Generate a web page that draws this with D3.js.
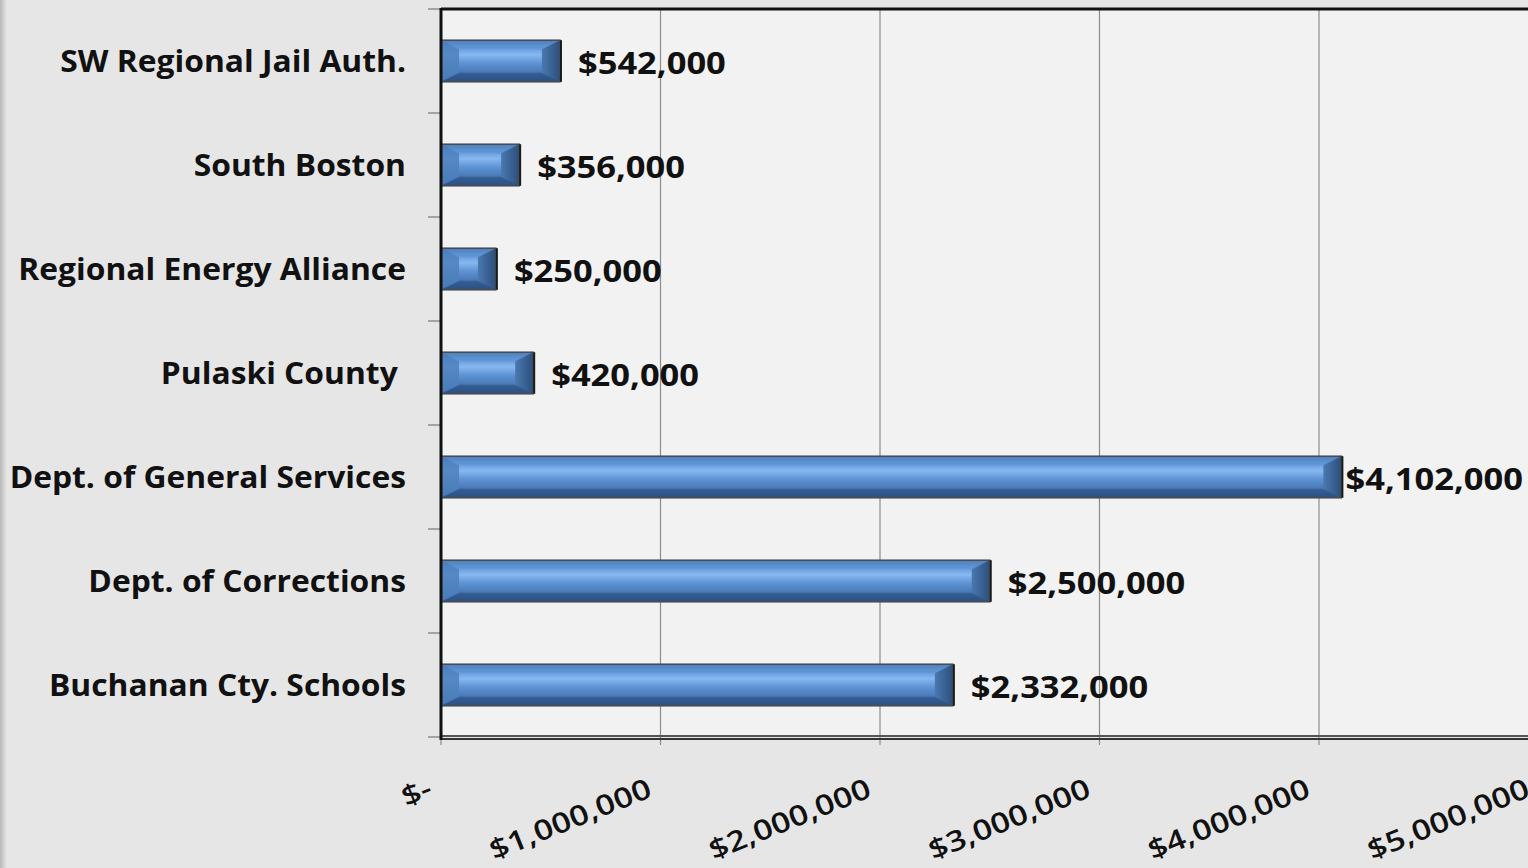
<!DOCTYPE html>
<html><head><meta charset="utf-8">
<script src="https://cdn.jsdelivr.net/npm/d3@7"></script>
<style>
html,body{margin:0;padding:0;background:#e6e6e6;overflow:hidden}
svg{display:block}
text{font-family:"Open Sans",sans-serif;fill:#111}
</style></head><body>
<svg id="c" width="1528" height="868"></svg>
<script>
const categories = ["SW Regional Jail Auth.","South Boston","Regional Energy Alliance","Pulaski County ","Dept. of General Services","Dept. of Corrections","Buchanan Cty. Schools"];
const values = [542000,356000,250000,420000,4102000,2500000,2332000];
const tickValues = [0,1000000,2000000,3000000,4000000,5000000];
const tickLabels = ["$-","$1,000,000","$2,000,000","$3,000,000","$4,000,000","$5,000,000"];

const W=1528,H=868;
const svg=d3.select("#c");
const m={l:441,t:9,b:737};
const x=d3.scaleLinear().domain([0,5000000]).range([m.l,m.l+5*219.5]);
const y=d3.scaleBand().domain(categories).range([m.t,m.b]).paddingInner(0.6).paddingOuter(0.3);
const band=d3.scaleBand().domain(categories).range([m.t,m.b]);

const defs=svg.append("defs");
const lg=defs.append("linearGradient").attr("id","edge").attr("x1",0).attr("x2",1);
lg.append("stop").attr("offset","0%").attr("stop-color","#b8b8b8");
lg.append("stop").attr("offset","100%").attr("stop-color","#e6e6e6");
const bg=defs.append("linearGradient").attr("id","bar").attr("x1",0).attr("x2",0).attr("y1",0).attr("y2",1);
[["0%","#3f6fa8"],["15%","#5f94d6"],["35%","#86b8f0"],["55%","#5e93d4"],["80%","#4676b2"],["100%","#2c5285"]].forEach(s=>bg.append("stop").attr("offset",s[0]).attr("stop-color",s[1]));
const rb=defs.append("linearGradient").attr("id","rbev").attr("x1",0).attr("x2",1);
rb.append("stop").attr("offset","0%").attr("stop-color","#4a78ae");
rb.append("stop").attr("offset","100%").attr("stop-color","#2c4f7c");

svg.append("rect").attr("x",0).attr("y",0).attr("width",7).attr("height",H).attr("fill","url(#edge)");
svg.append("rect").attr("x",m.l).attr("y",m.t).attr("width",W-m.l).attr("height",m.b-m.t).attr("fill","#f2f2f2");

// gridlines
svg.append("g").selectAll("line").data(tickValues.slice(1)).join("line")
  .attr("x1",d=>x(d)).attr("x2",d=>x(d)).attr("y1",m.t).attr("y2",m.b+8)
  .attr("stroke","#8c8c8c").attr("stroke-width",1.2);
svg.append("line").attr("x1",m.l).attr("x2",m.l).attr("y1",m.b).attr("y2",m.b+8).attr("stroke","#8c8c8c").attr("stroke-width",1.2);

// bars
const g=svg.append("g");
categories.forEach((c,i)=>{
  const x0=x(0),x1=x(values[i]),y0=y(c),h=y.bandwidth(),y1=y0+h;
  const bw=Math.min(18,(x1-x0)/3), bh=9;
  g.append("rect").attr("x",x0).attr("y",y0).attr("width",x1-x0).attr("height",h).attr("fill","url(#bar)");
  g.append("path").attr("d",`M${x0},${y0}L${x1},${y0}L${x1-bw},${y0+bh}L${x0+bw},${y0+bh}Z`).attr("fill","#5c8fcf").attr("opacity",0.5);
  g.append("path").attr("d",`M${x0},${y1}L${x1},${y1}L${x1-bw},${y1-bh}L${x0+bw},${y1-bh}Z`).attr("fill","#2b4f80").attr("opacity",0.6);
  g.append("path").attr("d",`M${x1},${y0}L${x1-bw},${y0+bh}L${x1-bw},${y1-bh}L${x1},${y1}Z`).attr("fill","url(#rbev)");
  g.append("path").attr("d",`M${x0},${y0}L${x0+bw},${y0+bh}L${x0+bw},${y1-bh}L${x0},${y1}Z`).attr("fill","#4f80bd").attr("opacity",0.85);
  g.append("rect").attr("x",x0).attr("y",y0).attr("width",x1-x0).attr("height",h).attr("fill","none").attr("stroke","#4a4a4a").attr("stroke-width",1.5);
  g.append("line").attr("x1",x1+1).attr("x2",x1+1).attr("y1",y0).attr("y2",y1).attr("stroke","#1a1a1a").attr("stroke-width",2);
});

// axes lines
svg.append("line").attr("x1",m.l).attr("x2",W).attr("y1",m.t).attr("y2",m.t).attr("stroke","#111").attr("stroke-width",3);
svg.append("line").attr("x1",m.l).attr("x2",W).attr("y1",m.b-1).attr("y2",m.b-1).attr("stroke","#555").attr("stroke-width",2);
svg.append("line").attr("x1",m.l).attr("x2",W).attr("y1",m.b+2).attr("y2",m.b+2).attr("stroke","#333").attr("stroke-width",2);
const yt=categories.map(c=>band(c)).concat([m.b]);
svg.append("g").selectAll("line").data(yt).join("line")
  .attr("x1",m.l-13).attr("x2",m.l).attr("y1",d=>d).attr("y2",d=>d).attr("stroke","#8c8c8c").attr("stroke-width",1.5);
svg.append("line").attr("x1",m.l).attr("x2",m.l).attr("y1",m.t-1).attr("y2",m.b+3).attr("stroke","#111").attr("stroke-width",3);

// category labels
svg.append("g").selectAll("text").data(categories).join("text")
  .attr("transform",c=>`translate(406,${y(c)+y.bandwidth()/2}) scale(1.06,1)`).attr("dy","0.35em")
  .attr("text-anchor","end").attr("font-weight","bold").attr("font-size",30)
  .style("white-space","pre").text(c=>c);

// value labels
const fmt=d3.format("$,");
const vsx=1.15;
svg.append("g").selectAll("text").data(categories).join("text")
  .attr("dy","0.35em").attr("font-weight","bold").attr("font-size",30)
  .text((c,i)=>fmt(values[i]))
  .attr("transform",function(c,i){const w=this.getComputedTextLength()*vsx;const xx=Math.min(x(values[i])+18,W-5-w);return `translate(${xx},${y(c)+y.bandwidth()/2+2}) scale(${vsx},1)`;});

// x tick labels
svg.append("g").selectAll("text").data(tickValues).join("text")
  .attr("transform",(d,i)=>`translate(${x(d)-7},${796}) rotate(-22) scale(1.2,1)`)
  .attr("text-anchor","end").attr("font-size",28).attr("font-weight",600).text((d,i)=>tickLabels[i]);
</script></body></html>
